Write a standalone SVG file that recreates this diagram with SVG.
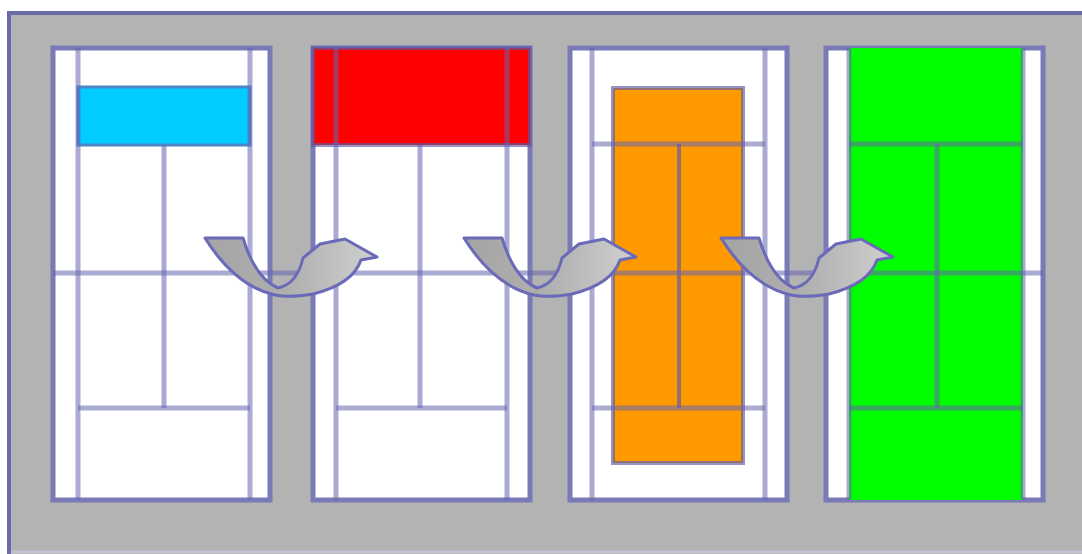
<svg xmlns="http://www.w3.org/2000/svg" width="1082" height="554" viewBox="0 0 1082 554">
  <style>
    .panel{fill:#ffffff;stroke:#7a7ab6;stroke-width:5}
    .ln{stroke:#6464b0;stroke-opacity:0.55;stroke-width:5;fill:none}
    .lnd{stroke:#5a5aa6;stroke-opacity:0.65;stroke-width:4;fill:none}
    .arrow{stroke:#6a6ab8;stroke-width:3;stroke-linejoin:round}
  </style>
  <defs>
    <linearGradient id="ag" x1="0" y1="0" x2="1" y2="0">
      <stop offset="0" stop-color="#a4a4a4"/>
      <stop offset="0.5" stop-color="#b0b0b0"/>
      <stop offset="1" stop-color="#d0d0d0"/>
    </linearGradient>
    <path id="arr" class="arrow" fill="url(#ag)" d="M0,0 L38,0 Q50,40 73,50 Q92,46 98,20 L115,6 L140,1 L172,19 L156,22 Q148,46 108,56 Q84,60 70,57 Q30,48 0,0 Z"/>
  </defs>
  <rect width="1082" height="554" fill="#ffffff"/>
  <rect x="9" y="13" width="1073" height="541" fill="#b3b3b3"/>
  <line x1="9" y1="13" x2="1082" y2="13" stroke="#6a6aa8" stroke-width="4"/>
  <line x1="9" y1="11" x2="9" y2="554" stroke="#6a6aa8" stroke-width="4"/>
  <line x1="11" y1="552" x2="1082" y2="552" stroke="#c2c2d2" stroke-width="3"/>

  <g id="panel1">
    <rect class="panel" x="53" y="48" width="217" height="452"/>
    <rect x="78" y="87" width="172" height="58" fill="#00ccff" stroke="#4a88c8" stroke-width="3"/>
    <line class="ln" x1="78" y1="48" x2="78" y2="500"/>
    <line class="ln" x1="250" y1="48" x2="250" y2="500"/>
    <line class="ln" x1="164" y1="145" x2="164" y2="408"/>
    <line class="ln" x1="78" y1="408" x2="250" y2="408"/>
  </g>

  <g id="panel2">
    <rect class="panel" x="313" y="48" width="217" height="452"/>
    <rect x="313" y="48" width="217" height="97" fill="#ff0000"/>
    <rect x="313" y="48" width="217" height="97" class="lnd"/>
    <line class="ln" x1="336" y1="48" x2="336" y2="500"/>
    <line class="ln" x1="507" y1="48" x2="507" y2="500"/>
    <line class="ln" x1="420" y1="145" x2="420" y2="408"/>
    <line class="ln" x1="336" y1="408" x2="507" y2="408"/>
  </g>

  <g id="panel3">
    <rect class="panel" x="570" y="48" width="217" height="452"/>
    <rect x="613" y="88" width="130" height="375" fill="#ff9900"/>
    <rect x="613" y="88" width="130" height="375" class="lnd"/>
    <line class="ln" x1="592" y1="48" x2="592" y2="500"/>
    <line class="ln" x1="765" y1="48" x2="765" y2="500"/>
    <line class="ln" x1="592" y1="144" x2="765" y2="144"/>
    <line class="lnd" x1="679" y1="144" x2="679" y2="408"/>
    <line class="ln" x1="592" y1="408" x2="765" y2="408"/>
  </g>

  <g id="panel4">
    <rect class="panel" x="826" y="48" width="217" height="452"/>
    <rect x="849" y="48" width="174" height="452" fill="#00ff00"/>
    <line class="ln" x1="849" y1="48" x2="849" y2="500"/>
    <line class="ln" x1="1023" y1="48" x2="1023" y2="500"/>
    <line class="ln" x1="849" y1="144" x2="1023" y2="144"/>
    <line class="ln" x1="937" y1="144" x2="937" y2="408"/>
    <line class="ln" x1="849" y1="408" x2="1023" y2="408"/>
  </g>

  <line class="ln" x1="53" y1="273" x2="1043" y2="273"/>

  <g id="connectors">
    <use href="#arr" x="205" y="238"/>
    <use href="#arr" x="464" y="238"/>
    <use href="#arr" x="721" y="238"/>
  </g>
</svg>
